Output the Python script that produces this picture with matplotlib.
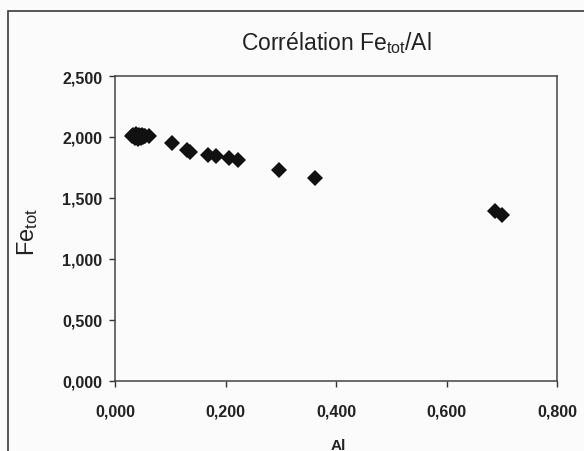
import matplotlib
matplotlib.use("Agg")
import matplotlib.pyplot as plt
from matplotlib.patches import Rectangle
from matplotlib.ticker import FuncFormatter

plt.rcParams['font.family'] = ['Liberation Sans', 'DejaVu Sans']
plt.rcParams['mathtext.fontset'] = 'custom'
plt.rcParams['mathtext.rm'] = 'Liberation Sans'
plt.rcParams['mathtext.it'] = 'Liberation Sans'

al = [0.030, 0.033, 0.036, 0.038, 0.040, 0.042, 0.044, 0.045, 0.047, 0.048,
      0.050, 0.052, 0.055, 0.062,
      0.103, 0.130, 0.135, 0.168, 0.182, 0.207, 0.222, 0.297, 0.362, 0.688, 0.700]
fe = [2.005, 2.015, 1.990, 2.025, 2.000, 1.985, 2.020, 2.005, 1.995, 2.015,
      2.000, 2.010, 2.005, 2.005,
      1.950, 1.895, 1.880, 1.855, 1.845, 1.825, 1.815, 1.730, 1.665, 1.390, 1.360]

xticks = [0.0, 0.2, 0.4, 0.6, 0.8]
yticks = [0.0, 0.5, 1.0, 1.5, 2.0, 2.5]

W, H = 584, 452
fig = plt.figure(figsize=(W / 100, H / 100), dpi=100)
fig.patch.set_facecolor('#fbfbfb')

# outer chart-area frame
fig.patches.append(Rectangle((8 / W, -0.05), 1.2, 1 - 12 / H + 0.05,
                             transform=fig.transFigure, fill=False,
                             edgecolor='#3a3a3a', linewidth=1.2))

ax = fig.add_axes([115 / W, 1 - 382 / H, (557 - 115) / W, (382 - 77) / H])
ax.set_facecolor('#fbfbfb')
ax.plot(al, fe, linestyle='none', marker='D', markersize=8.5,
        color='#111111', markeredgewidth=0)

ax.set_xlim(0, 0.8)
ax.set_ylim(0, 2.5)
ax.set_xticks(xticks)
ax.set_yticks(yticks)
fmt = FuncFormatter(lambda v, p: f"{v:.3f}".replace('.', ','))
ax.xaxis.set_major_formatter(fmt)
ax.yaxis.set_major_formatter(fmt)
ax.tick_params(direction='out', length=4, width=1, color='#333333',
               labelsize=11.5, labelcolor='#222222')
ax.tick_params(axis='x', pad=12)
ax.tick_params(axis='y', pad=5)
for lab in ax.get_xticklabels() + ax.get_yticklabels():
    lab.set_fontweight('semibold')
for s in ax.spines.values():
    s.set_color('#444444')
    s.set_linewidth(1.1)

fig.text(336 / W, 1 - 43 / H, r'Corrélation Fe$_{\mathrm{tot}}$/Al',
         ha='center', va='center', fontsize=16.5, color='#222222')
fig.text(28 / W, 1 - 232 / H, r'Fe$_{\mathrm{tot}}$', rotation=90,
         ha='center', va='center', fontsize=17, color='#222222')
fig.text(338 / W, 1 - 446 / H, 'Al', ha='center', va='center',
         fontsize=11, fontweight='bold', color='#222222')

fig.savefig('out.png', dpi=100, facecolor=fig.get_facecolor())
